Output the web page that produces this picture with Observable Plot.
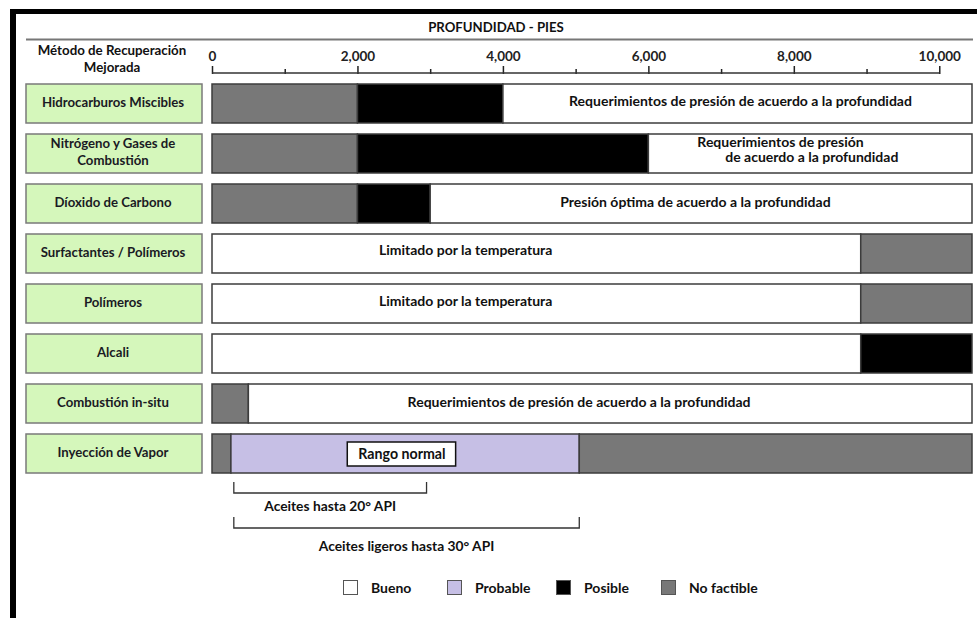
<!DOCTYPE html>
<html><head><meta charset="utf-8">
<script src="https://cdn.jsdelivr.net/npm/d3@7"></script>
<script src="https://cdn.jsdelivr.net/npm/@observablehq/plot@0.6"></script>
<style>
html,body{margin:0;padding:0;background:#fff;}
#wrap{position:relative;width:977px;height:618px;overflow:hidden;font-family:Lato,sans-serif;}
#chart{position:absolute;left:0;top:0;}
#border{position:absolute;left:10px;top:9px;right:0;bottom:0;border-left:6px solid #000;border-top:5px solid #000;pointer-events:none;z-index:2;}
.lg{position:absolute;top:579px;height:16px;display:flex;align-items:center;font-weight:700;font-size:14px;color:#111;white-space:nowrap;}
.lg .box{width:15px;height:15px;box-sizing:border-box;border:1.5px solid #555;margin-right:13px;}
</style>
</head><body>
<div id="wrap"><div id="chart"></div><div id="border"></div></div>
<script>
// ---- data ----
const axisTitle = "PROFUNDIDAD - PIES";
const columnTitle = ["Método de Recuperación", "Mejorada"];
const methods = ["Hidrocarburos Miscibles", "Nitrógeno y Gases de Combustión", "Díoxido de Carbono",
  "Surfactantes / Polímeros", "Polímeros", "Alcali", "Combustión in-situ", "Inyección de Vapor"];
const methodLines = [["Hidrocarburos Miscibles"], ["Nitrógeno y Gases de", "Combustión"], ["Díoxido de Carbono"],
  ["Surfactantes / Polímeros"], ["Polímeros"], ["Alcali"], ["Combustión in-situ"], ["Inyección de Vapor"]];
const statuses = ["Bueno", "Probable", "Posible", "No factible"];
const statusColors = ["#ffffff", "#c6bfe5", "#000000", "#787878"];
const depthMax = 10450;
const majorTicks = [0, 2000, 4000, 6000, 8000, 10000];
const minorTicks = [1000, 3000, 5000, 7000, 9000];

// segments (one entry per coloured piece)
const segMethod = [0, 0, 0, 1, 1, 1, 2, 2, 2, 3, 3, 4, 4, 5, 5, 6, 6, 7, 7, 7];
const segFrom   = [0, 2000, 4000, 0, 2000, 6000, 0, 2000, 3000, 0, 8920, 0, 8920, 0, 8920, 0, 500, 0, 260, 5050];
const segTo     = [2000, 4000, 10450, 2000, 6000, 10450, 2000, 3000, 10450, 8920, 10450, 8920, 10450, 8920, 10450, 500, 10450, 260, 5050, 10450];
const segStatus = ["No factible", "Posible", "Bueno", "No factible", "Posible", "Bueno", "No factible", "Posible", "Bueno",
  "Bueno", "No factible", "Bueno", "No factible", "Bueno", "Posible", "No factible", "Bueno", "No factible", "Probable", "No factible"];

// annotations inside the bars
const noteMethod = [0, 1, 1, 2, 3, 4, 6];
const noteX      = [7260, 7810, 8240, 6640, 3480, 3480, 5040];
const noteDy     = [-2, -11, 4, -1, -3, -2, -1];
const noteText   = ["Requerimientos de presión de acuerdo a la profundidad", "Requerimientos de presión",
  "de acuerdo a la profundidad", "Presión óptima de acuerdo a la profundidad", "Limitado por la temperatura",
  "Limitado por la temperatura", "Requerimientos de presión de acuerdo a la profundidad"];

// "Rango normal" box in Inyección de Vapor
const rangoFrom = 1860, rangoTo = 3350, rangoText = "Rango normal";

// API brackets below Inyección de Vapor
const bracketFrom = [300, 300];
const bracketTo = [2950, 5050];
const bracketText = ["Aceites hasta 20° API", "Aceites ligeros hasta 30° API"];

// ---- render helpers ----
function header(index, scales, values, dims) {
  const g = d3.create("svg:g").attr("font-weight", 700).attr("fill", "#111");
  g.append("text").attr("x", 496).attr("y", 27).attr("text-anchor", "middle")
    .attr("dominant-baseline", "central").attr("font-size", 13.2).text(axisTitle);
  g.append("line").attr("x1", 26).attr("x2", 973).attr("y1", 39.5).attr("y2", 39.5)
    .attr("stroke", "#777").attr("stroke-width", 2);
  columnTitle.forEach((t, i) => g.append("text").attr("x", 112).attr("y", 49.5 + i * 17)
    .attr("text-anchor", "middle").attr("dominant-baseline", "central").attr("font-size", 13.3).text(t));
  return g.node();
}
function labelColumn(index, scales, values, dims) {
  const y = scales.y;
  const bw = y.bandwidth ? y.bandwidth() : 40;
  const g = d3.create("svg:g");
  methods.forEach((m, i) => {
    const top = y(m);
    g.append("rect").attr("x", 26).attr("y", top).attr("width", 176).attr("height", bw)
      .attr("fill", "#d5f7bb").attr("stroke", "#7a7a7a").attr("stroke-width", 1.5);
    const lines = methodLines[i];
    lines.forEach((t, j) => g.append("text").attr("x", 113)
      .attr("y", top + bw / 2 + (j - (lines.length - 1) / 2) * 17 - 2)
      .attr("text-anchor", "middle").attr("dominant-baseline", "central")
      .attr("font-size", 13.2).attr("font-weight", 700).attr("fill", "#1a1a24").text(t));
  });
  return g.node();
}
function baseline(index, scales, values, dims) {
  return d3.create("svg:line").attr("x1", scales.x(majorTicks[0])).attr("x2", scales.x(majorTicks[majorTicks.length - 1]))
    .attr("y1", dims.marginTop).attr("y2", dims.marginTop).attr("stroke", "#333").attr("stroke-width", 1.5).node();
}
function brackets(index, scales, values, dims) {
  const y = scales.y;
  const bw = y.bandwidth ? y.bandwidth() : 40;
  const base = y(methods[methods.length - 1]) + bw;
  const g = d3.create("svg:g");
  bracketText.forEach((t, i) => {
    const top = base + 9 + i * 35, bot = top + 11;
    const a = scales.x(bracketFrom[i]), b = scales.x(bracketTo[i]);
    g.append("path").attr("d", `M${a},${top}V${bot}H${b}V${top}`).attr("fill", "none")
      .attr("stroke", "#333").attr("stroke-width", 1.3);
    g.append("text").attr("x", (a + b) / 2).attr("y", bot + 12 + i * 5).attr("text-anchor", "middle")
      .attr("dominant-baseline", "central").attr("font-size", 13.8).attr("font-weight", 700)
      .attr("fill", "#111").text(t);
  });
  return g.node();
}

const segIdx = d3.range(segMethod.length);
// one text mark per vertical offset (dy must be a constant)
const noteMarks = d3.groups(d3.range(noteText.length), i => noteDy[i]).map(([dy, idx]) =>
  Plot.text(idx, {
    x: i => noteX[i], y: i => methods[noteMethod[i]], text: i => noteText[i],
    dy, fontSize: 14, fontWeight: "bold", fill: "#111"
  }));

const chart = Plot.plot({
  width: 977, height: 618,
  marginLeft: 212, marginRight: 5, marginTop: 73, marginBottom: 140,
  x: {domain: [0, depthMax], axis: null},
  y: {domain: methods, range: [81, 476], paddingInner: 0.213, paddingOuter: 0, axis: null},
  color: {domain: statuses, range: statusColors},
  style: "font-family: Lato, sans-serif; background: transparent; overflow: visible;",
  marks: [
    header,
    labelColumn,
    Plot.barX(segIdx, {
      x1: i => segFrom[i], x2: i => segTo[i], y: i => methods[segMethod[i]],
      fill: i => segStatus[i], stroke: "#3c3c3c", strokeWidth: 1.5
    }),
    Plot.barX([rangoText], {
      x1: () => rangoFrom, x2: () => rangoTo, y: () => methods[7],
      fill: "white", stroke: "#111", strokeWidth: 1.5, insetTop: 8, insetBottom: 7
    }),
    Plot.text([rangoText], {
      x: () => (rangoFrom + rangoTo) / 2, y: () => methods[7], text: d => d, dy: 0,
      fontSize: 14.2, fontWeight: "bold", fill: "#111"
    }),
    ...noteMarks,
    Plot.axisX({anchor: "top", ticks: majorTicks, tickFormat: d3.format(","), tickSize: 8, tickPadding: 5,
      fontSize: 13.5, fontWeight: "bold", label: null, color: "#222", strokeWidth: 1.5}),
    Plot.axisX({anchor: "top", ticks: minorTicks, tickFormat: () => "", tickSize: 5, label: null,
      color: "#222", strokeWidth: 1.5}),
    baseline,
    brackets
  ]
});
document.getElementById("chart").appendChild(chart);

// legend
const legendLeft = [343, 447, 556, 661];
const wrap = document.getElementById("wrap");
statuses.forEach((s, i) => {
  const item = document.createElement("div");
  item.className = "lg";
  item.style.left = legendLeft[i] + "px";
  const box = document.createElement("span");
  box.className = "box";
  box.style.background = statusColors[i];
  const txt = document.createElement("span");
  txt.textContent = s;
  item.appendChild(box); item.appendChild(txt);
  wrap.appendChild(item);
});
</script>
</body></html>
